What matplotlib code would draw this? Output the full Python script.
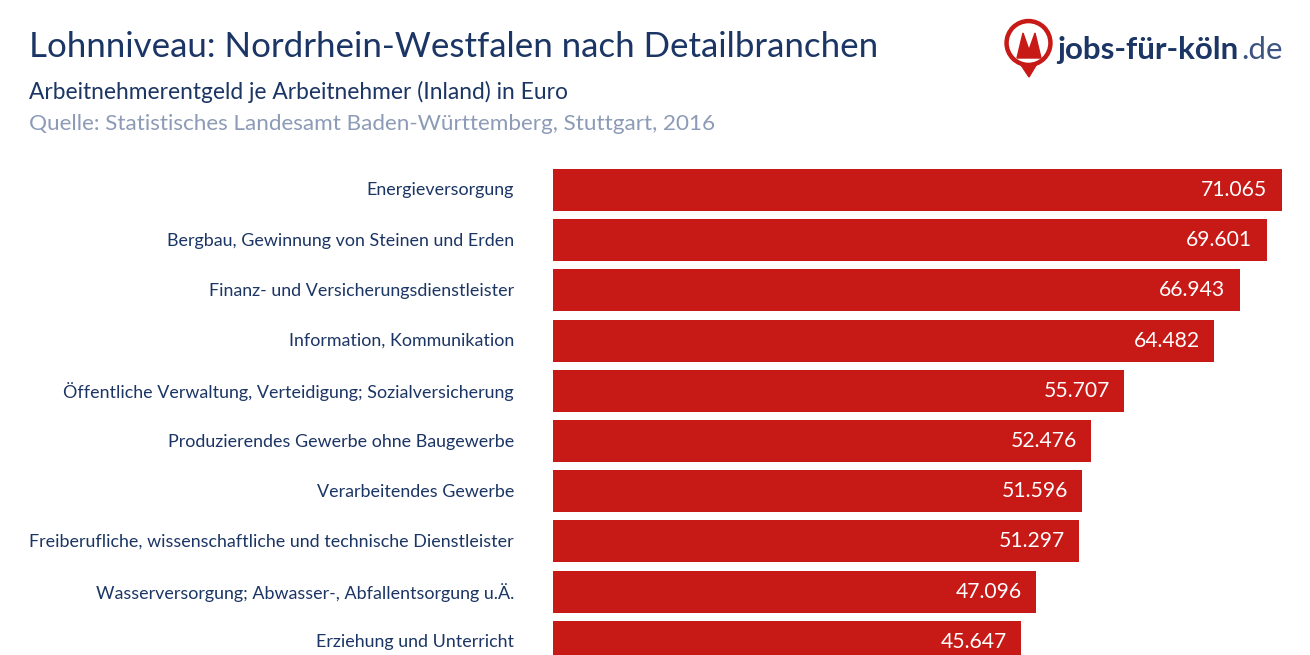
import matplotlib
matplotlib.use("Agg")
import matplotlib.pyplot as plt
import matplotlib.patches as mpatches
from matplotlib.transforms import ScaledTranslation

# ── data ──────────────────────────────────────────────────────────────────────
BRANCHES = [
    "Energieversorgung",
    "Bergbau, Gewinnung von Steinen und Erden",
    "Finanz- und Versicherungsdienstleister",
    "Information, Kommunikation",
    "Öffentliche Verwaltung, Verteidigung; Sozialversicherung",
    "Produzierendes Gewerbe ohne Baugewerbe",
    "Verarbeitendes Gewerbe",
    "Freiberufliche, wissenschaftliche und technische Dienstleister",
    "Wasserversorgung; Abwasser-, Abfallentsorgung u.Ä.",
    "Erziehung und Unterricht",
]
WAGES = [71065, 69601, 66943, 64482, 55707, 52476, 51596, 51297, 47096, 45647]

NAVY = "#1b3564"
GREY = "#8d9bb7"
RED = "#c71a17"
W, H = 1310, 655

plt.rcParams["font.family"] = "Lato"


def de_number(v):
    return f"{v:,}".replace(",", ".")


fig = plt.figure(figsize=(W / 100, H / 100), dpi=100, facecolor="white")

# ── bars ──────────────────────────────────────────────────────────────────────
x0, x1 = 553, 1282
first_y, pitch = 190, 50.2
ax = fig.add_axes([x0 / W, 0, (x1 - x0) / W, 1])
ypos = list(range(len(WAGES)))
ax.barh(ypos, WAGES, height=0.84, color=RED, edgecolor="none")
ax.set_xlim(0, WAGES[0])
ax.set_ylim((H - first_y) / pitch, -first_y / pitch)
ax.set_yticks(ypos, BRANCHES, fontsize=12.9, color=NAVY)
ax.tick_params(axis="y", length=0, pad=28)
ax.xaxis.set_visible(False)
# labels sit a pixel above the bar centre in the original
nudge = ScaledTranslation(0, 1 / 100, fig.dpi_scale_trans)
for lab in ax.get_yticklabels():
    lab.set_transform(lab.get_transform() + nudge)
for spine in ax.spines.values():
    spine.set_visible(False)
for y, v in zip(ypos, WAGES):
    ax.annotate(de_number(v), (v, y), xytext=(-10.5, 0), textcoords="offset points",
                ha="right", va="center", color="white", fontsize=15.2)

# ── header ────────────────────────────────────────────────────────────────────
fig.text(29 / W, 1 - 57 / H, "Lohnniveau: Nordrhein-Westfalen nach Detailbranchen",
         fontsize=25.1, color=NAVY, va="baseline")
fig.text(29 / W, 1 - 99 / H, "Arbeitnehmerentgeld je Arbeitnehmer (Inland) in Euro",
         fontsize=16.4, color=NAVY, va="baseline")
fig.text(29 / W, 1 - 130 / H, "Quelle: Statistisches Landesamt Baden-Württemberg, Stuttgart, 2016",
         fontsize=16.2, color=GREY, va="baseline")

# ── logo ──────────────────────────────────────────────────────────────────────
logo = fig.add_axes([0, 0, 1, 1], facecolor="none")
logo.set_xlim(0, W)
logo.set_ylim(H, 0)
logo.axis("off")
logo.add_patch(mpatches.Polygon([(1019, 62), (1038, 62), (1029, 77)], color=RED))
logo.add_patch(mpatches.Circle((1028.5, 43), 23.5, color=RED))
logo.add_patch(mpatches.Circle((1028.5, 43), 19, color="white"))
logo.add_patch(mpatches.Polygon([(1017, 58), (1023, 33), (1029, 50), (1035, 33), (1041, 58)],
                                color=RED))
logo.text(1057, 59, "jobs-für-köln", fontsize=22.6, fontweight="bold", color=NAVY, va="baseline")
logo.text(1241, 59, ".de", fontsize=22.6, fontweight="normal", color="#3c5480", va="baseline")

fig.savefig("out.png", dpi=100)
